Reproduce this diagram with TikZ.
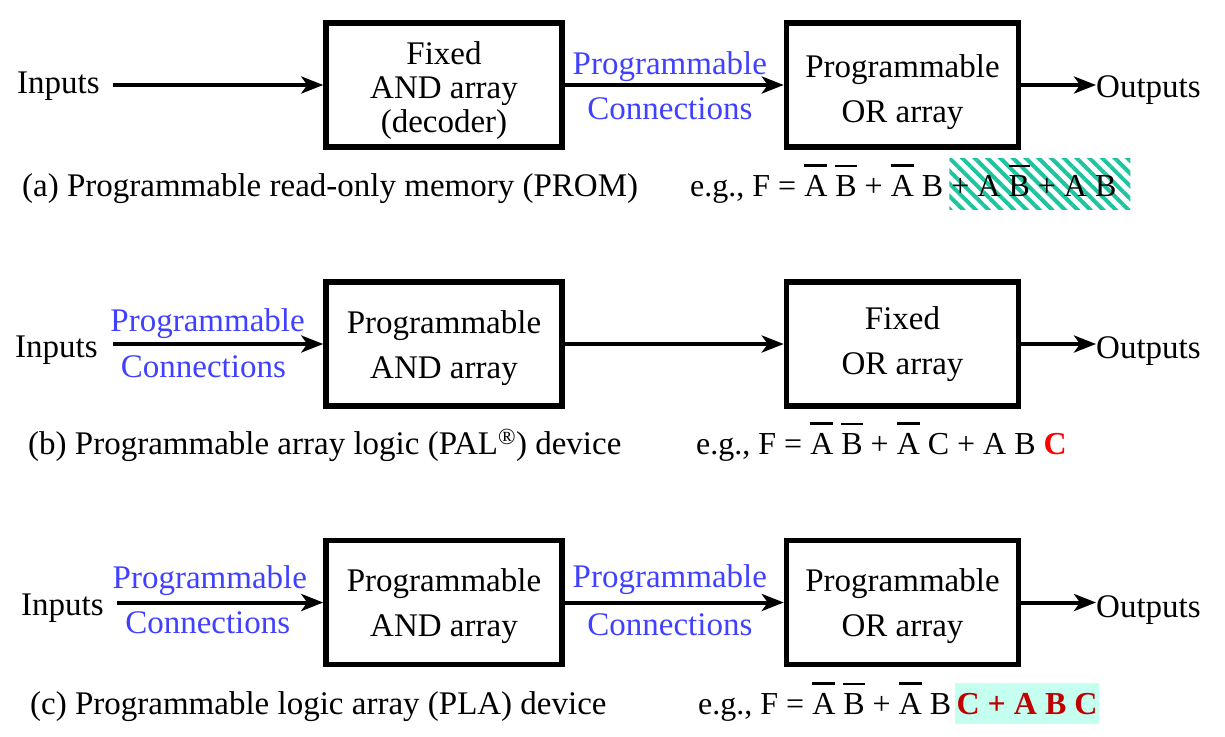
\documentclass[tikz,border=0pt]{standalone}
\usepackage{fontspec}
\setmainfont{Liberation Serif}
\usepackage{tikz}
\tikzset{x=1pt,y=-1pt}
\usetikzlibrary{arrows.meta, patterns.meta}
\definecolor{progblue}{RGB}{64,64,255}
\definecolor{hatchgreen}{RGB}{30,196,160}
\definecolor{termcyan}{RGB}{196,255,240}
\definecolor{termred}{RGB}{192,0,0}
\def\Fsz{\fontsize{33}{45}\selectfont}
\def\Esz{\fontsize{32}{40}\selectfont}
\newcommand{\nb}[1]{\vbox{\hrule height 2.5pt \kern 8pt \hbox{#1}}}
\newcommand{\lift}[1]{\rule{0pt}{#1}}

\begin{document}
\begin{tikzpicture}[every node/.style={font=\Fsz, inner sep=0pt},
    array/.style={draw, line width=5.5pt, minimum width=236pt, minimum height=124pt, align=center},
    conn/.style={-{Stealth[length=22pt,width=17pt,inset=6pt]}, line width=4pt},
    prog/.style={text=progblue},
    eqn/.style={anchor=base west, font=\Esz}]
\useasboundingbox (0,0) rectangle (1225,736);

% (a) PROM
\node[anchor=base west] (inA) at (17,93) {Inputs};
\coordinate (srcA) at (113,85);
\node[array, font=\fontsize{33}{34}\selectfont] (andA) at (444,85) {\lift{33.5pt}Fixed\\AND array\\(decoder)};
\node[array, minimum width=232pt] (orA) at (902.5,85) {\lift{36.5pt}Programmable\\OR array};
\node[anchor=base west] (outA) at (1096,97) {Outputs};
\draw[conn] (srcA) -- (andA.west);
\draw[conn] (andA.east) -- (orA.west)
    node[pos=.48, above=1pt, prog] {Programmable}
    node[pos=.48, below=11pt, prog] {Connections};
\draw[conn] (orA.east) -- (orA.east -| outA.west);
\node[anchor=base west] (capA) at (22,196) {(a) Programmable read-only memory (PROM)};
\node[eqn] (eqA) at (690,196) {e.g., F = \nb{A} \nb{B} + \nb{A} B};
\node[eqn, text height=38pt, text depth=13pt,
      pattern={Lines[angle=-45,distance=9pt,line width=4pt]}, pattern color=hatchgreen]
    (hatchA) at ([xshift=4pt]eqA.base east) {\hspace*{2pt}+ A \nb{B} + A B\hspace*{14pt}};

% (b) PAL
\node[anchor=base west] (inB) at (15,357) {Inputs};
\coordinate (srcB) at (113,344);
\node[array] (andB) at (444,344) {\lift{30.5pt}Programmable\\AND array};
\node[array, minimum width=232pt] (orB) at (902.5,344) {Fixed\\OR array};
\node[anchor=base west] (outB) at (1096,358) {Outputs};
\draw[conn] (srcB) -- (andB.west)
    node[pos=.45, above=3pt, prog] {Programmable}
    node[pos=.43, below=10pt, prog] {Connections};
\draw[conn] (andB.east) -- (orB.west);
\draw[conn] (orB.east) -- (orB.east -| outB.west);
\node[anchor=base west] (capB) at (28,454) {(b) Programmable array logic (PAL\textsuperscript{\textregistered}) device};
\node[eqn] (eqB) at (696,454) {e.g., F = \nb{A} \nb{B} + \nb{A} C + A B {\bfseries\color{red}C}};

% (c) PLA
\node[anchor=base west] (inC) at (21,615) {Inputs};
\coordinate (srcC) at (117,602.5);
\node[array] (andC) at (444,602.5) {\lift{30.5pt}Programmable\\AND array};
\node[array, minimum width=232pt] (orC) at (902.5,602.5) {\lift{30.5pt}Programmable\\OR array};
\node[anchor=base west] (outC) at (1096,617) {Outputs};
\draw[conn] (srcC) -- (andC.west)
    node[pos=.45, above=5pt, prog] {Programmable}
    node[pos=.44, below=7pt, prog] {Connections};
\draw[conn] (andC.east) -- (orC.west)
    node[pos=.48, above=6pt, prog] {Programmable}
    node[pos=.48, below=9pt, prog] {Connections};
\draw[conn] (orC.east) -- (orC.east -| outC.west);
\node[anchor=base west] (capC) at (30,714) {(c) Programmable logic array (PLA) device};
\node[eqn] (eqC) at (698,714) {e.g., F = \nb{A} \nb{B} + \nb{A} B};
\node[eqn, fill=termcyan, text height=31pt, text depth=10pt,
      font=\Esz\bfseries, text=termred]
    (hiC) at ([xshift=3pt]eqC.base east) {\hspace*{2pt}C + A B C\hspace*{1pt}};
\end{tikzpicture}
\end{document}
